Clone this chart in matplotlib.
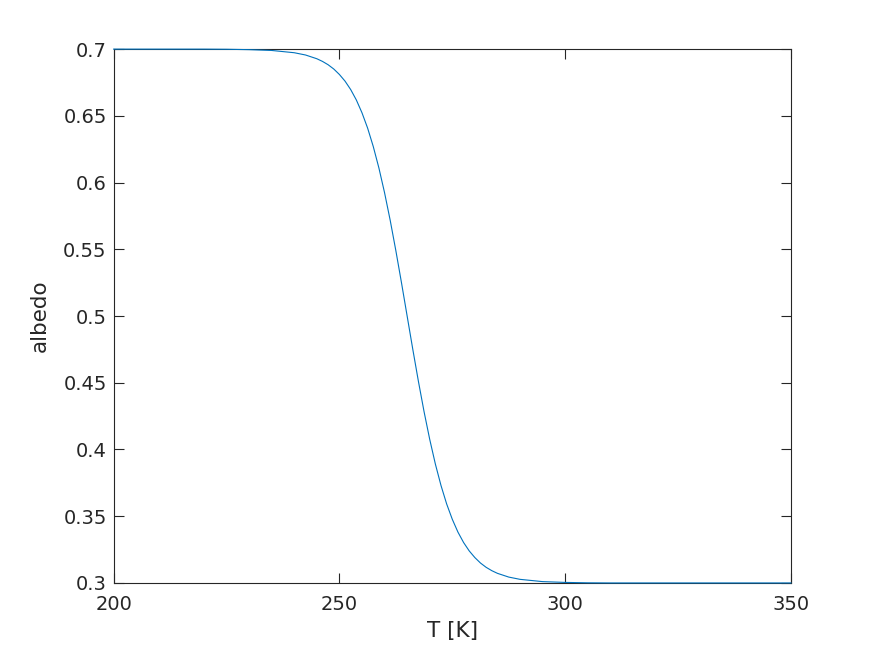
import numpy as np
import matplotlib
matplotlib.use('Agg')
import matplotlib.pyplot as plt

# temperature [K] and albedo
T = [200, 210, 220, 225, 230, 235, 240, 242.5, 245, 246.25, 247.5, 248.75,
     250, 251.25, 252.5, 253.75, 255, 256.25, 257.5, 258.75, 260, 261.25,
     262.5, 263.75, 265, 266.25, 267.5, 268.75, 270, 271.25, 272.5, 273.75,
     275, 276.25, 277.5, 278.75, 280, 281.25, 282.5, 283.75, 285, 287.5,
     290, 295, 300, 305, 310, 350]
albedo = [0.7000, 0.7000, 0.7000, 0.6999, 0.6996, 0.6990, 0.6973, 0.6956,
          0.6928, 0.6908, 0.6883, 0.6851, 0.6810, 0.6760, 0.6697, 0.6619,
          0.6523, 0.6408, 0.6270, 0.6109, 0.5924, 0.5717, 0.5490, 0.5249,
          0.5000, 0.4751, 0.4510, 0.4283, 0.4076, 0.3891, 0.3730, 0.3592,
          0.3477, 0.3381, 0.3303, 0.3240, 0.3190, 0.3149, 0.3117, 0.3092,
          0.3072, 0.3044, 0.3027, 0.3010, 0.3004, 0.3001, 0.3000, 0.3000]

xticks = [200, 250, 300, 350]
yticks = [0.3, 0.35, 0.4, 0.45, 0.5, 0.55, 0.6, 0.65, 0.7]
ytick_labels = ['0.3', '0.35', '0.4', '0.45', '0.5', '0.55', '0.6', '0.65', '0.7']

axcol = '#262626'

fig = plt.figure(figsize=(8.74, 6.55), dpi=100)
ax = fig.add_axes([0.13, 0.11, 0.775, 0.815])
ax.plot(T, albedo, color='#0072BD', lw=0.8, clip_on=False, zorder=3)

ax.set_xlim(200, 350)
ax.set_ylim(0.3, 0.7)
ax.set_xticks(xticks)
ax.set_yticks(yticks)
ax.set_yticklabels(ytick_labels)
ax.tick_params(direction='in', length=7, width=0.8, colors=axcol,
               labelsize=14, top=True, right=True)
ax.tick_params(axis='x', pad=9)
ax.tick_params(axis='y', pad=5)
for s in ax.spines.values():
    s.set_color(axcol)
    s.set_linewidth(0.8)

ax.set_xlabel('T [K]', fontsize=15.5, color=axcol, labelpad=5)
ax.set_ylabel('albedo', fontsize=15.5, color=axcol, labelpad=10)

fig.savefig('out.png', dpi=100, facecolor='white')
